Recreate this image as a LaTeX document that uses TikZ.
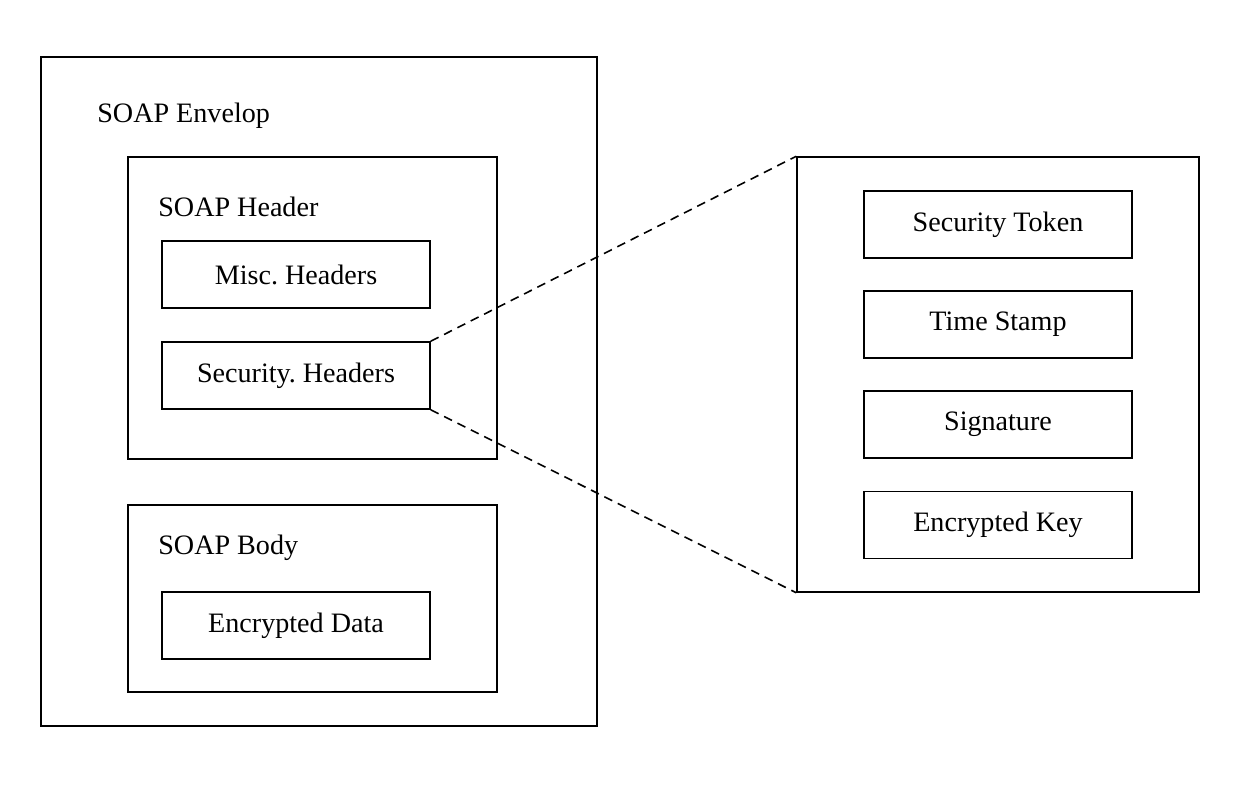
\documentclass[tikz,border=0pt]{standalone}
\usepackage{fontspec}
\setmainfont{Liberation Serif}
\usepackage{tikz}
\usetikzlibrary{positioning}
\frenchspacing

\tikzset{
  part/.style={draw, line width=0.9pt, minimum width=5.36cm, minimum height=1.34cm, inner sep=0pt},
  frame/.style={draw, line width=0.9pt},
  zoomline/.style={line width=0.9pt, dash pattern=on 5pt off 3.5pt}
}

\begin{document}
\begin{tikzpicture}[x=0.02cm, y=-0.02cm, font=\fontsize{16}{19}\selectfont]
\useasboundingbox (0,0) rectangle (1241,788);

% Envelope with header and body
\draw[frame] (41,57) rectangle (597,726);
\node[anchor=west, inner sep=0pt] (envlabel) at (97,116) {SOAP Envelop};

\draw[frame] (128,157) rectangle (497,459);
\node[anchor=west, inner sep=0pt] (headlabel) at (158,207) {SOAP Header};
\node[part] (misc) at (296,274.5) {\raisebox{-1.2pt}{Misc. Headers}};
\node[part] (sec) at (296,375.5) {\raisebox{-1.2pt}{Security. Headers}};

\draw[frame] (128,505) rectangle (497,692);
\node[anchor=west, inner sep=0pt] (bodylabel) at (158,548) {SOAP Body};
\node[part] (encdata) at (296,625.5) {\raisebox{-1.2pt}{Encrypted Data}};

% Security header contents
\node[frame, minimum width=8.04cm, minimum height=8.7cm, inner sep=0pt] (secbox) at (998,374.5) {};
\node[part] (token) at (998,224.5) {\raisebox{-1.2pt}{Security Token}};
\node[part] (stamp) at (998,324.5) {\raisebox{-1.2pt}{Time Stamp}};
\node[part] (sign) at (998,424.5) {\raisebox{-1.2pt}{Signature}};
\node[part] (enckey) at (998,525) {\raisebox{-1.2pt}{Encrypted Key}};

% Zoom lines
\draw[zoomline] (sec.north east) -- (secbox.north west);
\draw[zoomline] (sec.south east) -- (secbox.south west);
\end{tikzpicture}
\end{document}
